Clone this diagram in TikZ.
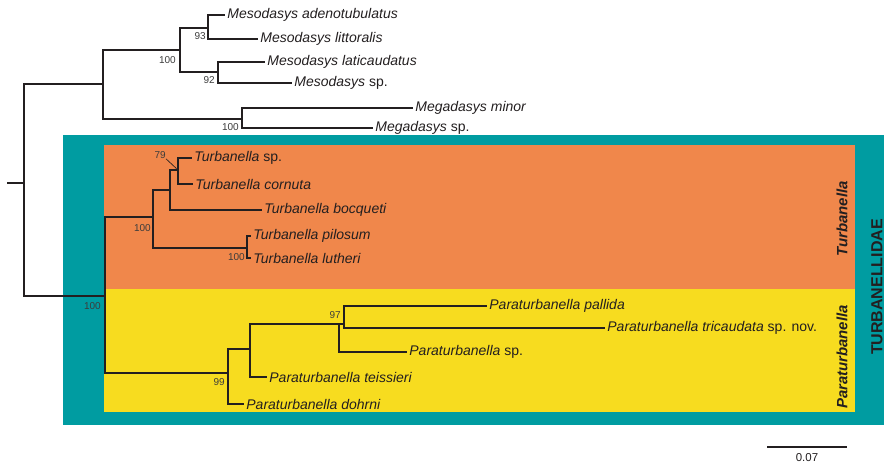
\documentclass[tikz,border=0pt]{standalone}
\usepackage{fontspec}
\setmainfont{Liberation Sans}
\usepackage{xcolor}
\definecolor{family-teal}{HTML}{009CA1}
\definecolor{turb-orange}{HTML}{F0874B}
\definecolor{para-yellow}{HTML}{F7DC1F}
\definecolor{ink}{HTML}{231F20}
\definecolor{support-grey}{HTML}{3C3C3C}

\begin{document}
\begin{tikzpicture}[x=0.75pt, y=-0.75pt,
        every node/.style={text=ink},
        taxon/.style={anchor=west, inner sep=1.6pt,
            font=\fontsize{10.5}{12}\selectfont},
        boot/.style={anchor=east, inner sep=0pt, text=support-grey,
            font=\fontsize{7.5}{9}\selectfont},
        branchline/.style={draw=ink, line width=1.7pt},
        cladename/.style={rotate=90,
            font=\fontsize{11.2}{13}\selectfont\bfseries\itshape}]
      \useasboundingbox (0,0) rectangle (893,464);

      % family and genus panels
      \fill[family-teal] (63,135) rectangle (884,425);
      \fill[turb-orange] (104,145) rectangle (855,289);
      \fill[para-yellow] (104,289) rectangle (855,412);

      % internal nodes
      \coordinate (stub) at (7,183);
      \coordinate (root) at (24,183);
      \coordinate (outg) at (103,84);
      \coordinate (meso) at (180,50);
      \coordinate (meso1) at (208,28);
      \coordinate (meso2) at (218,72);
      \coordinate (mega) at (242,119);
      \coordinate (turbid) at (105,296);
      \coordinate (turb) at (153,217);
      \coordinate (turb1) at (170,190);
      \coordinate (turb2) at (178,170);
      \coordinate (turb3) at (247,248);
      \coordinate (para) at (228,373);
      \coordinate (para1) at (250,349);
      \coordinate (para2) at (339,324);
      \coordinate (para3) at (344,324);

      % outgroup taxa
      \node[taxon] (adeno) at (225,15) {\textit{Mesodasys adenotubulatus}};
      \node[taxon] (litt) at (258,39) {\textit{Mesodasys littoralis}};
      \node[taxon] (lati) at (265,62) {\textit{Mesodasys laticaudatus}};
      \node[taxon] (mesosp) at (292,83) {\textit{Mesodasys} sp.};
      \node[taxon] (megamin) at (413,108) {\textit{Megadasys minor}};
      \node[taxon] (megasp) at (373,128) {\textit{Megadasys} sp.};

      % Turbanella
      \node[taxon] (turbsp) at (192,158) {\textit{Turbanella} sp.};
      \node[taxon] (cornuta) at (193,184) {\textit{Turbanella cornuta}};
      \node[taxon] (bocq) at (262,210) {\textit{Turbanella bocqueti}};
      \node[taxon] (pilos) at (251,236) {\textit{Turbanella pilosum}};
      \node[taxon] (luth) at (251,258) {\textit{Turbanella lutheri}};

      % Paraturbanella
      \node[taxon] (pallida) at (487,306) {\textit{Paraturbanella pallida}};
      \node[taxon] (tricaud) at (605,328) {\textit{Paraturbanella tricaudata} sp. nov.};
      \node[taxon] (parasp) at (407,352) {\textit{Paraturbanella} sp.};
      \node[taxon] (teiss) at (267,377) {\textit{Paraturbanella teissieri}};
      \node[taxon] (dohrni) at (244,404) {\textit{Paraturbanella dohrni}};

      % branches
      \draw[branchline] (stub) -- (root);
      \draw[branchline] (root) |- (outg);
      \draw[branchline] (root) |- (turbid);
      \draw[branchline] (outg) |- (meso);
      \draw[branchline] (outg) |- (mega);
      \draw[branchline] (meso) |- (meso1);
      \draw[branchline] (meso) |- (meso2);
      \draw[branchline] (meso1) |- (adeno.west);
      \draw[branchline] (meso1) |- (litt.west);
      \draw[branchline] (meso2) |- (lati.west);
      \draw[branchline] (meso2) |- (mesosp.west);
      \draw[branchline] (mega) |- (megamin.west);
      \draw[branchline] (mega) |- (megasp.west);

      \draw[branchline] (turbid) |- (turb);
      \draw[branchline] (turbid) |- (para);
      \draw[branchline] (turb) |- (turb1);
      \draw[branchline] (turb) |- (turb3);
      \draw[branchline] (turb1) |- (turb2);
      \draw[branchline] (turb1) |- (bocq.west);
      \draw[branchline] (turb2) |- (turbsp.west);
      \draw[branchline] (turb2) |- (cornuta.west);
      \draw[branchline] (turb3) |- (pilos.west);
      \draw[branchline] (turb3) |- (luth.west);

      \draw[branchline] (para) |- (para1);
      \draw[branchline] (para) |- (dohrni.west);
      \draw[branchline] (para1) |- (para2);
      \draw[branchline] (para1) |- (teiss.west);
      \draw[branchline] (para2) |- (para3);
      \draw[branchline] (para2) |- (parasp.west);
      \draw[branchline] (para3) |- (pallida.west);
      \draw[branchline] (para3) |- (tricaud.west);

      % bootstrap support
      \node[boot] (b93) at (206,36) {93};
      \node[boot] (b100m) at (176,60) {100};
      \node[boot] (b92) at (215,80) {92};
      \node[boot] (b100g) at (239,127) {100};
      \node[boot] (b100f) at (101,306) {100};
      \node[boot] (b100t) at (151,228) {100};
      \node[boot] (b79) at (166,155) {79};
      \draw[ink, line width=0.5pt, shorten >=1.5pt] (b79.south east) -- (turb2);
      \node[boot] (b100l) at (245,257) {100};
      \node[boot] (b99) at (225,382) {99};
      \node[boot] (b97) at (341,315) {97};

      % clade names
      \node[cladename] (turbname) at (842,219) {Turbanella};
      \node[cladename] (paraname) at (842,357) {Paraturbanella};
      \node[rotate=90, font=\fontsize{12}{14}\selectfont\bfseries]
            (family) at (877,287) {TURBANELLIDAE};

      % scale bar
      \coordinate (barL) at (767,447);
      \coordinate (barR) at (847,447);
      \draw[branchline] (barL) -- (barR);
      \node[font=\fontsize{8.6}{10}\selectfont, inner sep=0pt]
            (barlab) at (807,458) {0.07};
    \end{tikzpicture}
\end{document}
